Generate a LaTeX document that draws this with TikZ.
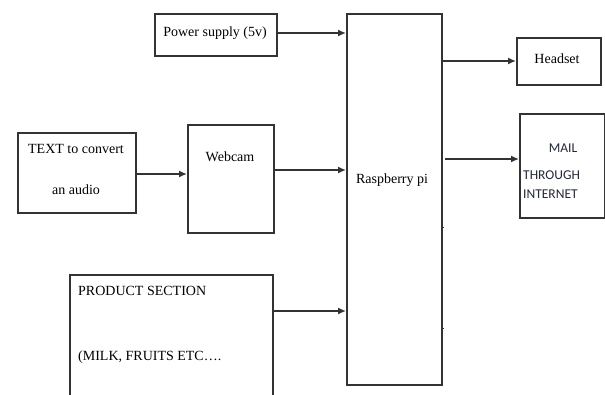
\documentclass[tikz,border=0pt]{standalone}
\usepackage{fontspec}
\setmainfont{Liberation Serif}
\newfontfamily\calfont{Carlito}
\usetikzlibrary{arrows.meta}
\definecolor{linec}{HTML}{333333}
\definecolor{mailc}{HTML}{232836}
\tikzset{
  box/.style={draw=linec, line width=1.5pt, fill=none, inner sep=0pt, anchor=north west},
  lbl/.style={inner sep=0pt, font=\fontsize{14}{16}\selectfont},
  mlbl/.style={inner sep=0pt, font=\calfont\fontsize{13.5}{15}\selectfont, text=mailc},
  arr/.style={draw=linec, line width=1.5pt, -{Latex[length=8pt,width=7pt]}},
  tick/.style={draw=linec, line width=1pt}
}
\begin{document}
\begin{tikzpicture}[x=1pt,y=-1pt]
\useasboundingbox (0,0) rectangle (605,394);
\clip (0,0) rectangle (605,394);
% boxes
\node[box, minimum width=122pt, minimum height=42pt] (ps) at (154,13) {};
\node[box, minimum width=95pt, minimum height=371pt] (rpi) at (346,13) {};
\node[box, minimum width=84pt, minimum height=47pt] (hs) at (516,37) {};
\node[box, minimum width=85pt, minimum height=104pt] (mail) at (519,113) {};
\node[box, minimum width=118pt, minimum height=80pt] (txt) at (17,132) {};
\node[box, minimum width=86pt, minimum height=108pt] (cam) at (187,124) {};
\node[box, minimum width=203pt, minimum height=140pt] (prod) at (69,274) {};
% labels
\node[lbl] (psl) at (215,33) {Power supply (5v)};
\node[lbl] (rpil) at (392,180) {Raspberry pi};
\node[lbl] (hsl) at (557,59) {Headset};
\node[mlbl] (m1) at (563,148) {MAIL};
\node[mlbl, anchor=west] (m2) at (523,175) {THROUGH};
\node[mlbl, anchor=west] (m3) at (523,194) {INTERNET};
\node[lbl] (t1) at (76,149) {TEXT to convert};
\node[lbl] (t2) at (76,190) {an audio};
\node[lbl] (caml) at (230,157) {Webcam};
\node[lbl, anchor=west] (p1) at (78,291) {PRODUCT SECTION};
\node[lbl, anchor=west] (p2) at (78,357) {(MILK, FRUITS ETC\ldots.};
% connector endpoints
\coordinate (psout) at (276,33);
\coordinate (rpi1) at (346,33);
\coordinate (txtout) at (135,174);
\coordinate (camin) at (187,174);
\coordinate (camout) at (273,170);
\coordinate (rpi2) at (346,170);
\coordinate (prodout) at (272,311);
\coordinate (rpi3) at (346,311);
\coordinate (rpihs) at (441,61);
\coordinate (hsin) at (516,61);
\coordinate (rpim) at (445,159);
\coordinate (mailin) at (519,159);
\draw[arr] (psout) -- (rpi1);
\draw[arr] (txtout) -- (camin);
\draw[arr] (camout) -- (rpi2);
\draw[arr] (prodout) -- (rpi3);
\draw[arr] (rpihs) -- (hsin);
\draw[arr] (rpim) -- (mailin);
% small ticks on the Raspberry pi edge
\coordinate (k1a) at (441,227); \coordinate (k1b) at (444,227);
\coordinate (k2a) at (441,328); \coordinate (k2b) at (444,328);
\draw[tick] (k1a) -- (k1b);
\draw[tick] (k2a) -- (k2b);
\end{tikzpicture}
\end{document}
